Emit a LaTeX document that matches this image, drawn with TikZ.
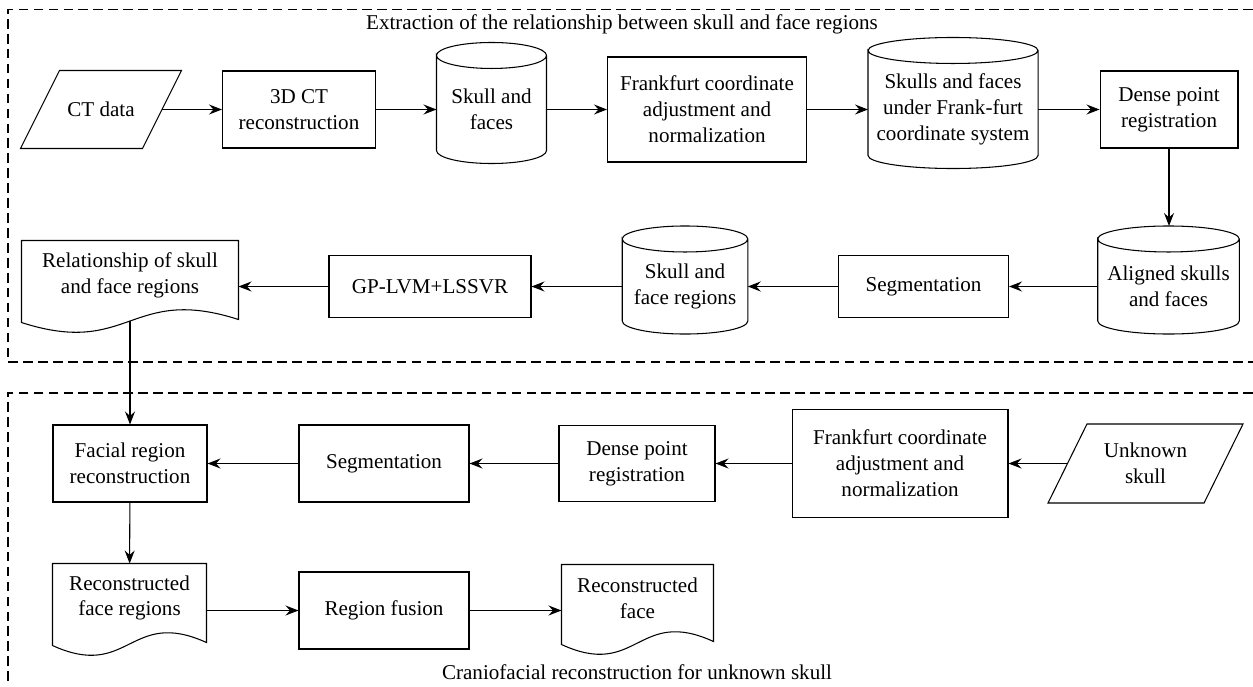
\documentclass[tikz,border=0pt]{standalone}
\usepackage{fontspec}
\setmainfont{Liberation Serif}
\usetikzlibrary{arrows.meta, calc}

\tikzset{
  box/.style={draw, rectangle, align=center, inner sep=2pt},
  slantbody/.style={rectangle, align=center, inner sep=1pt},
  cylbody/.style={rectangle, align=center, inner sep=1pt},
  docbody/.style={rectangle, align=center, inner sep=1pt},
  flow/.style={-{Stealth[length=2.6mm,width=2mm,inset=0.9mm]}},
  frame/.style={dash pattern=on 5.5pt off 3pt},
}
\def\cylr{0.26cm}
\def\slanto{0.39cm}

\begin{document}
\begin{tikzpicture}[x=0.02cm, y=-0.02cm, line width=0.6pt, font=\rmfamily\fontsize{12}{14.7}\selectfont]
\useasboundingbox (0,0) rectangle (1253,686);

% dashed frames
\draw[frame] (1253,9.5) -- (8,9.5) -- (8,362) -- (1253,362);
\draw[frame] (1253,393) -- (8,393) -- (8,686);
\node (title) at (622,24) {Extraction of the relationship between skull and face regions};
\node (caption) at (637,672) {Craniofacial reconstruction for unknown skull};

% first row
\node[slantbody, minimum width=2.42cm, minimum height=1.54cm] (ct) at (101,109.5) {CT data};
\node[box, minimum width=3.06cm, minimum height=1.54cm] (recon) at (299,109.5) {3D CT\\reconstruction};
\node[cylbody, minimum width=2.18cm, minimum height=1.62cm] (skullA) at (491.5,109.5) {Skull and\\faces};
\node[box, minimum width=3.98cm, minimum height=2.1cm] (frankA) at (707,109.5) {Frankfurt coordinate\\adjustment and\\normalization};
\node[cylbody, minimum width=3.38cm, minimum height=1.82cm] (skullB) at (953,109.5) {Skulls and faces\\under Frank-furt\\coordinate system};
\node[box, minimum width=2.76cm, minimum height=1.54cm] (denseA) at (1169,109.5) {Dense point\\registration};

% second row
\node[cylbody, minimum width=2.81cm, minimum height=1.36cm] (aligned) at (1168.5,286.5) {Aligned skulls\\and faces};
\node[box, minimum width=3.4cm, minimum height=1.24cm] (segA) at (923.5,286.5) {Segmentation};
\node[cylbody, minimum width=2.49cm, minimum height=1.36cm] (skullC) at (685,286.5) {Skull and\\face regions};
\node[box, minimum width=4.04cm, minimum height=1.24cm] (gplvm) at (430,286.5) {GP-LVM+LSSVR};
\node[docbody, minimum width=4.32cm, minimum height=1.36cm] (rel) at (130,275) {Relationship of skull\\and face regions};

% third row
\node[slantbody, minimum width=3.1cm, minimum height=1.56cm] (unknown) at (1145.5,463.5) {Unknown\\skull};
\node[box, minimum width=4.32cm, minimum height=2.16cm] (frankB) at (900,463.5) {Frankfurt coordinate\\adjustment and\\normalization};
\node[box, minimum width=3.12cm, minimum height=1.52cm] (denseB) at (637,463.5) {Dense point\\registration};
\node[box, minimum width=3.4cm, minimum height=1.54cm] (segB) at (384,463.5) {Segmentation};
\node[box, minimum width=3.08cm, minimum height=1.54cm] (facial) at (130,463.5) {Facial region\\reconstruction};

% fourth row
\node[docbody, minimum width=3.06cm, minimum height=1.36cm] (recface) at (129.5,598) {Reconstructed\\face regions};
\node[box, minimum width=3.4cm, minimum height=1.54cm] (fusion) at (384,610.5) {Region fusion};
\node[docbody, minimum width=3.02cm, minimum height=1.32cm] (face) at (637.5,598) {Reconstructed\\face};

% input outlines
\foreach \c in {ct, unknown}
  \draw ([xshift=\slanto]\c.north west) -- ([xshift=\slanto]\c.north east)
    -- ([xshift=-\slanto]\c.south east) -- ([xshift=-\slanto]\c.south west) -- cycle;

% database outlines
\foreach \c in {skullA, skullB, aligned, skullC}
  \draw let \p1=(\c.north west), \p2=(\c.north east), \n1={0.5*(\x2-\x1)} in
    ([yshift=\cylr]\c.north west) arc[start angle=180, end angle=0, x radius=\n1, y radius=\cylr]
    arc[start angle=0, end angle=-180, x radius=\n1, y radius=\cylr]
    -- (\c.south west) arc[start angle=180, end angle=360, x radius=\n1, y radius=\cylr]
    -- ([yshift=\cylr]\c.north east);

% document outlines
\foreach \c in {rel, recface, face}
  \draw let \p1=(\c.south west), \p2=(\c.south east), \n1={0.5*(\x2-\x1)} in
    (\c.north west) -- (\c.north east) -- ([yshift=-0.2cm]\c.south east)
    .. controls +(-\n1,0.7cm) and +(\n1,-0.7cm) .. ([yshift=-0.26cm]\c.south west) -- cycle;

\coordinate (alignedtop) at ([yshift=0.52cm]aligned.north);
\coordinate (relbot) at ([yshift=-0.23cm]rel.south);

% connectors
\draw[flow] (ct) -- (recon);
\draw[flow] (recon) -- (skullA);
\draw[flow] (skullA) -- (frankA);
\draw[flow] (frankA) -- (skullB);
\draw[flow] (skullB) -- (denseA);
\draw[flow] (denseA.south) -- (denseA.south |- alignedtop);
\draw[flow] (aligned) -- (segA);
\draw[flow] (segA) -- (skullC);
\draw[flow] (skullC) -- (gplvm);
\draw[flow] (gplvm.west) -- (gplvm.west -| rel.east);
\draw[flow] (relbot) -- (relbot |- facial.north);
\draw[flow] (unknown) -- (frankB);
\draw[flow] (frankB) -- (denseB);
\draw[flow] (denseB) -- (segB);
\draw[flow] (segB) -- (facial);
\draw[flow] (facial) -- (recface);
\draw[flow] (fusion.west -| recface.east) -- (fusion.west);
\draw[flow] (fusion.east) -- (fusion.east -| face.west);

\end{tikzpicture}
\end{document}
